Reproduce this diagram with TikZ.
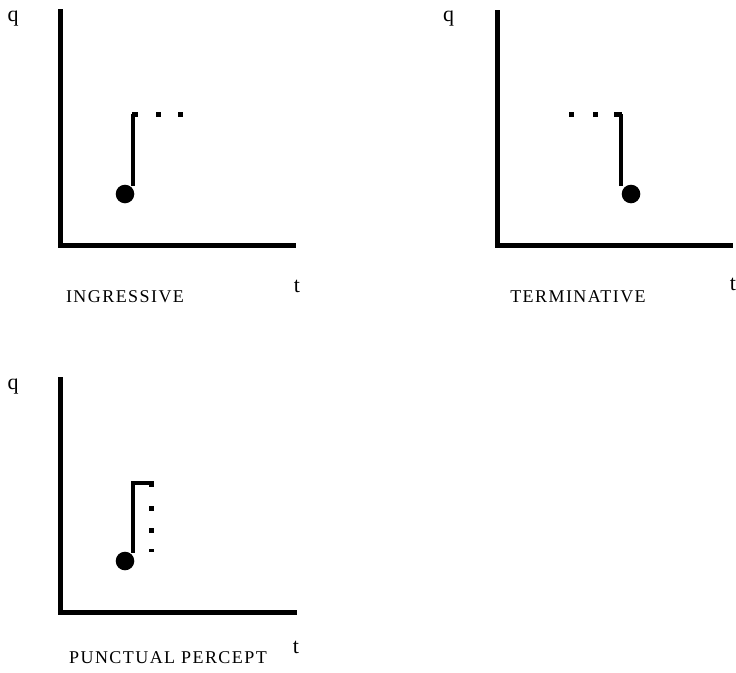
\documentclass[tikz,border=0pt]{standalone}
\usepackage{fontspec}
\setmainfont{Liberation Serif}
\newfontfamily\capsfont[LetterSpace=8]{Liberation Serif}
\usepackage{tikz}
\begin{document}
\begin{tikzpicture}[x=1pt,y=-1pt,
  axis/.style={line width=5pt,line cap=butt,line join=miter},
  stepline/.style={line width=4pt},
  blob/.style={fill=black},
  lab/.style={anchor=base,inner sep=0pt,font=\capsfont\fontsize{18}{20}\selectfont},
  var/.style={anchor=base,inner sep=0pt,font=\fontsize{22}{24}\selectfont}]
\useasboundingbox (0,0) rectangle (736,672);
% ---------- plot 1: ingressive
\coordinate (a1top) at (60.5,9);
\coordinate (a1o) at (60.5,245);
\coordinate (a1r) at (296,245);
\draw[axis] (a1top) -- (a1o) -- (a1r);
\node[var] (q1) at (13,21) {q};
\node[var] (t1) at (297,292) {t};
\node[lab] (l1) at (125,302) {INGRESSIVE};
\fill[blob] (125,194) circle (9.3);
\draw[stepline] (132.5,186) -- (132.5,114);
\fill (132,112) rectangle (138,117);
\fill (156,112) rectangle (160.5,117);
\fill (178,112) rectangle (182.5,117);
% ---------- plot 2: terminative
\coordinate (a2top) at (497,10);
\coordinate (a2o) at (497,245);
\coordinate (a2r) at (733,245);
\draw[axis] (a2top) -- (a2o) -- (a2r);
\node[var] (q2) at (448.5,21) {q};
\node[var] (t2) at (733,290) {t};
\node[lab] (l2) at (578,302) {TERMINATIVE};
\fill[blob] (631,194) circle (9.3);
\draw[stepline] (620.5,186) -- (620.5,114);
\fill (614,112) rectangle (622,117);
\fill (569,112) rectangle (573.5,117);
\fill (593,112) rectangle (597.5,117);
% ---------- plot 3: punctual percept
\coordinate (a3top) at (60.5,377);
\coordinate (a3o) at (60.5,612);
\coordinate (a3r) at (297,612);
\draw[axis] (a3top) -- (a3o) -- (a3r);
\node[var] (q3) at (13,389) {q};
\node[var] (t3) at (296,653) {t};
\node[lab] (l3) at (168,663) {PUNCTUAL PERCEPT};
\fill[blob] (125,561) circle (9.3);
\draw[stepline,line join=miter] (133,553) -- (133,482.5) -- (151,482.5);
\fill (149,481) rectangle (153.5,487);
\fill (148.5,506) rectangle (153.5,511);
\fill (148.5,528) rectangle (153.5,533);
\fill (148.5,549) rectangle (153.5,551.5);
\end{tikzpicture}
\end{document}
